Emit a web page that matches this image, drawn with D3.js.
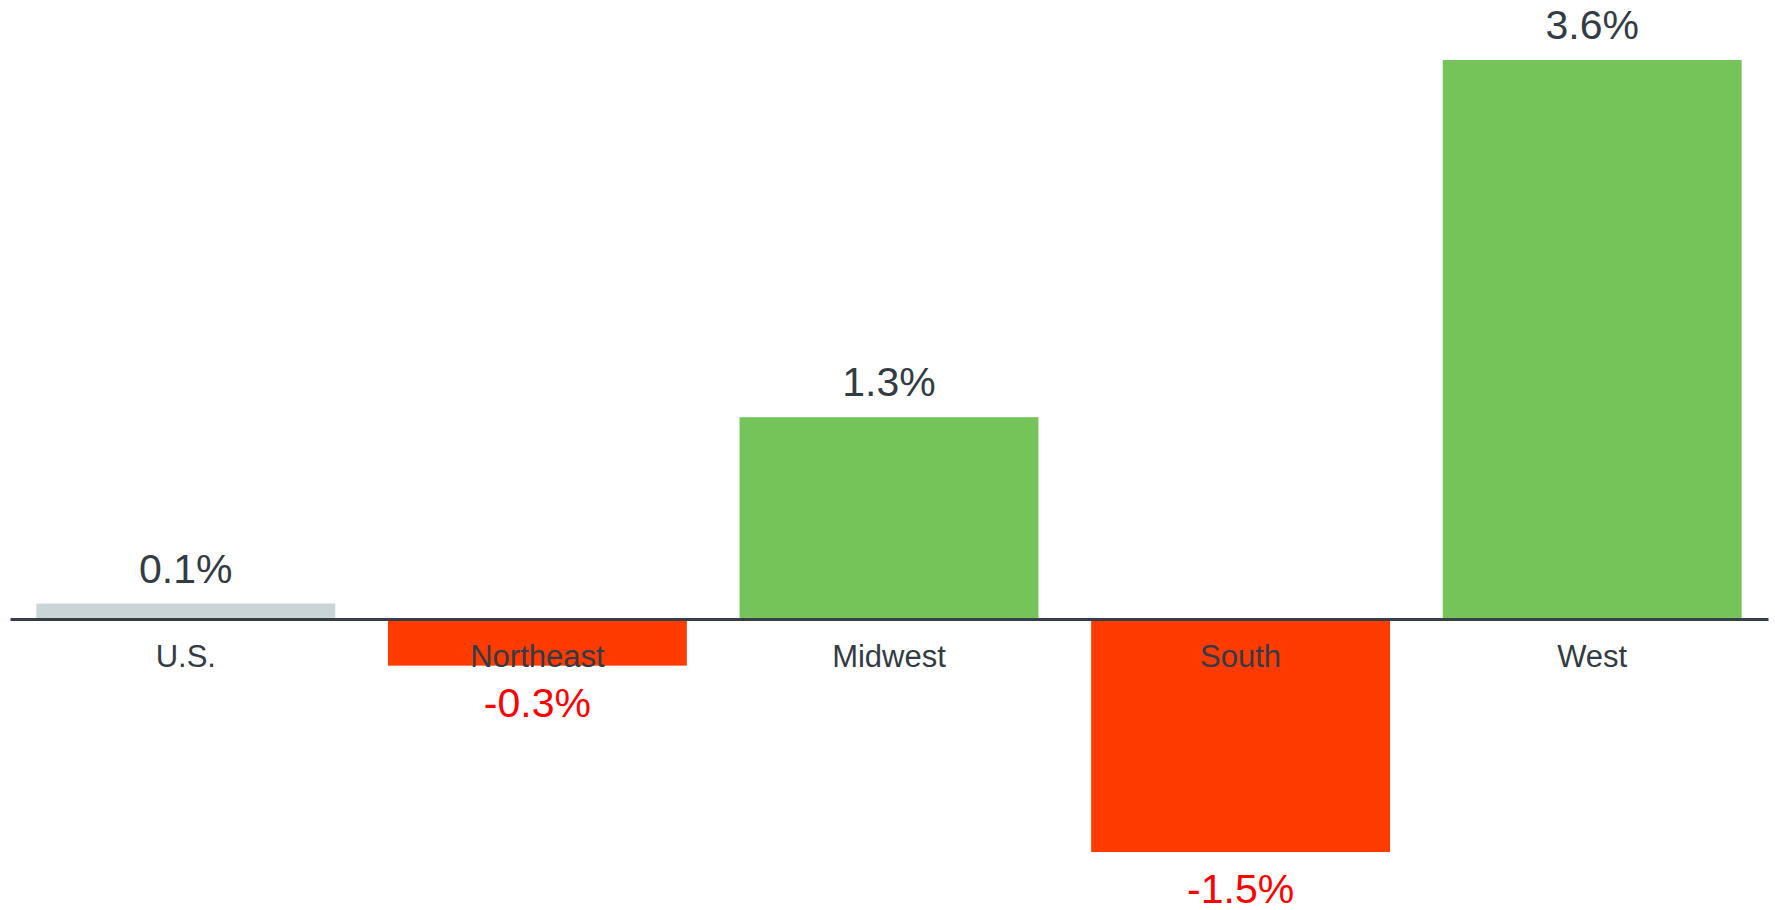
<!DOCTYPE html>
<html>
<head>
<meta charset="utf-8">
<script src="https://d3js.org/d3.v7.min.js"></script>
<style>
  body { margin: 0; background: #fff; }
  svg { display: block; font-family: "Liberation Sans", Arial, sans-serif; }
  .axis .domain { stroke: #363f48; stroke-width: 3; }
  .axis text { fill: #333c45; font-size: 31px; }
</style>
</head>
<body>
<script>
// regional change, percent
var regions = ["U.S.", "Northeast", "Midwest", "South", "West"];
var changes = [0.1, -0.3, 1.3, -1.5, 3.6];
var barColors = ["#cad5d7", "#ff3b00", "#74c45a", "#ff3b00", "#74c45a"];

var width = 1775, height = 910;

var svg = d3.select("body").append("svg")
    .attr("width", width).attr("height", height);

var x = d3.scaleBand()
    .domain(regions)
    .range([10, 1768])
    .paddingInner(0.15)
    .paddingOuter(0.075);

var y = d3.scaleLinear()
    .domain([-1.5, 3.6])
    .range([852, 60]);

var data = regions.map(function(r, i){ return {region: r, value: changes[i], color: barColors[i]}; });

svg.selectAll("rect.bar").data(data).enter().append("rect")
    .attr("class", "bar")
    .attr("x", function(d){ return x(d.region); })
    .attr("width", x.bandwidth())
    .attr("y", function(d){ return y(Math.max(0, d.value)); })
    .attr("height", function(d){ return Math.abs(y(d.value) - y(0)); })
    .attr("fill", function(d){ return d.color; });

// plain hyphen, not the unicode minus d3.format gives
var fmt = function(v){ return (v < 0 ? "-" : "") + Math.abs(v).toFixed(1) + "%"; };

svg.selectAll("text.val").data(data).enter().append("text")
    .attr("class", "val")
    .attr("x", function(d){ return x(d.region) + x.bandwidth() / 2; })
    .attr("y", function(d){ return d.value >= 0 ? y(d.value) - 21 : y(d.value) + 51; })
    .attr("text-anchor", "middle")
    .attr("font-size", 41)
    .attr("fill", function(d){ return d.value >= 0 ? "#333c45" : "#ff0000"; })
    .text(function(d){ return fmt(d.value); });

var axis = svg.append("g")
    .attr("class", "axis")
    .attr("transform", "translate(0," + y(0) + ")")
    .call(d3.axisBottom(x).tickSize(0).tickSizeOuter(0).tickPadding(26));

axis.selectAll(".tick text").attr("font-size", null);
axis.attr("font-family", null);
</script>
</body>
</html>
